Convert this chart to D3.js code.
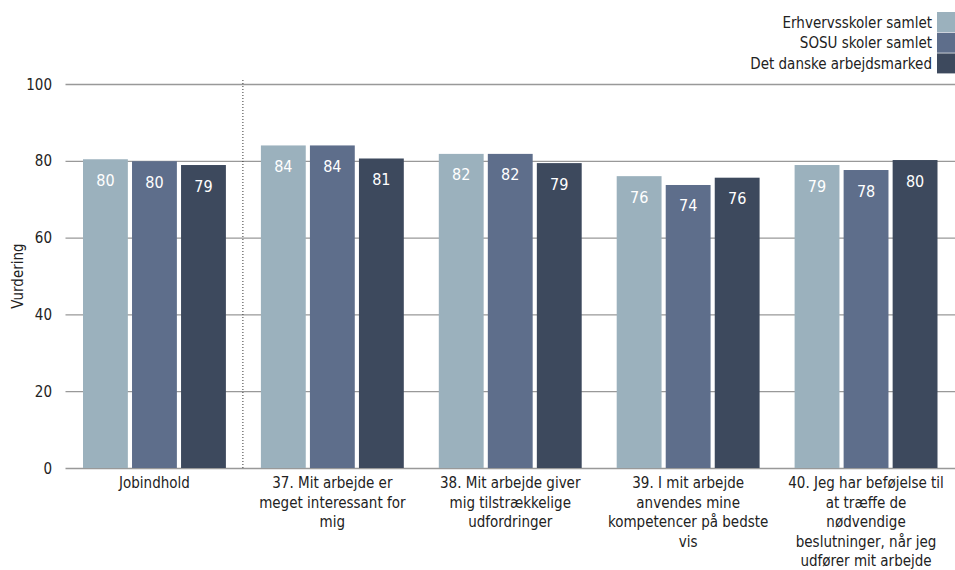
<!DOCTYPE html>
<html><head><meta charset="utf-8">
<script src="https://cdn.jsdelivr.net/npm/d3@7"></script>
<style>body{margin:0;background:#fff}svg{display:block}text{font-family:"DejaVu Sans Condensed","DejaVu Sans",sans-serif;fill:#222}</style>
</head><body><svg id="c" width="955" height="570"></svg>
<script>
const categories = ["Jobindhold","37. Mit arbejde er\nmeget interessant for\nmig","38. Mit arbejde giver\nmig tilstrækkelige\nudfordringer","39. I mit arbejde\nanvendes mine\nkompetencer på bedste\nvis","40. Jeg har beføjelse til\nat træffe de\nnødvendige\nbeslutninger, når jeg\nudfører mit arbejde"];
const seriesNames = ["Erhvervsskoler samlet","SOSU skoler samlet","Det danske arbejdsmarked"];
const erhverv = [80.4, 84.0, 81.8, 76.0, 78.9];
const sosu    = [79.9, 84.0, 81.8, 73.7, 77.6];
const dk      = [78.9, 80.6, 79.4, 75.6, 80.2];
const yTicks = [0,20,40,60,80,100];
const colors = ["#9bb1bd","#5e6e8b","#3d495d"];

const svg = d3.select("#c");
const m = {l:65.5, r:955, t:84, b:468};
const x = d3.scaleBand().domain(categories).range([m.l, m.r]).paddingInner(0).paddingOuter(0);
const xs = d3.scaleBand().domain(seriesNames).range([17.5, x.bandwidth()-17.5]).paddingInner(0.085);
const y = d3.scaleLinear().domain([0,100]).range([m.b, m.t]);

svg.append("g").selectAll("line").data(yTicks).join("line")
  .attr("x1", m.l).attr("x2", m.r).attr("y1", d=>y(d)+0.5).attr("y2", d=>y(d)+0.5)
  .attr("stroke", "#999").attr("stroke-width", 1.3);
svg.append("g").selectAll("text").data(yTicks).join("text")
  .attr("x", 52).attr("y", d=>y(d)+5.5).attr("text-anchor","end").attr("font-size",15).text(d=>d);

svg.append("line").attr("x1", x(categories[1])-0.5).attr("x2", x(categories[1])-0.5)
  .attr("y1", 80).attr("y2", m.b).attr("stroke","#333").attr("stroke-dasharray","1,2");

const series = [erhverv, sosu, dk];
series.forEach((vals, si) => {
  const g = svg.append("g");
  g.selectAll("rect").data(vals).join("rect")
    .attr("x", (d,i)=>x(categories[i]) + xs(seriesNames[si]))
    .attr("width", xs.bandwidth())
    .attr("y", d=>y(d)).attr("height", d=>y(0)-y(d))
    .attr("fill", colors[si]);
  g.selectAll("text").data(vals).join("text")
    .attr("x", (d,i)=>x(categories[i]) + xs(seriesNames[si]) + xs.bandwidth()/2)
    .attr("y", d=>y(d)+26.5).attr("text-anchor","middle").attr("font-size",16)
    .style("fill","#fff").text(d=>Math.round(d));
});

categories.forEach(c => {
  const lines = c.split("\n");
  const cx = x(c)+x.bandwidth()/2;
  const t = svg.append("text").attr("text-anchor","middle").attr("font-size",15)
    .attr("x", cx).attr("y", 488);
  lines.forEach((ln,i)=>t.append("tspan").attr("x", cx).attr("dy", i===0?0:19.5).text(ln));
});

svg.append("text").attr("transform","translate(23,276) rotate(-90)").attr("text-anchor","middle")
  .attr("font-size",15).text("Vurdering");

seriesNames.forEach((s,i)=>{
  svg.append("rect").attr("x",937).attr("y",12+i*20.7).attr("width",18).attr("height",20).attr("fill",colors[i]);
  svg.append("text").attr("x",932).attr("y",27.5+i*20.7).attr("text-anchor","end").attr("font-size",15).text(s);
});
</script></body></html>
